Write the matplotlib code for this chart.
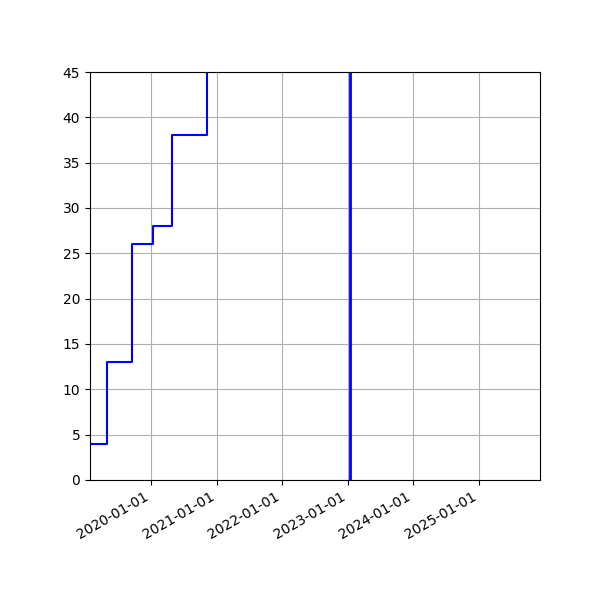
import pandas as pd
import matplotlib
matplotlib.use('Agg')
import matplotlib.pyplot as plt
import matplotlib.dates as mdates

dates = pd.to_datetime(['2019-01-01', '2019-05-02', '2019-09-16', '2020-01-10',
                        '2020-04-25', '2020-11-08', '2021-06-01'])
counts = [4, 13, 26, 28, 38, 60, 60]
marker_date = pd.Timestamp('2023-01-16')

fig = plt.figure(figsize=(6, 6), dpi=100)
ax = fig.add_subplot(111)
ax.step(dates, counts, where='post', color='blue')
ax.axvline(marker_date, color='blue', linewidth=2)
ax.set_ylim(0, 45)
ax.set_xlim(pd.Timestamp('2019-01-26'), pd.Timestamp('2025-12-07'))
ax.xaxis.set_major_locator(mdates.YearLocator())
ax.xaxis.set_major_formatter(mdates.DateFormatter('%Y-%m-%d'))
ax.grid(True)
fig.autofmt_xdate()
fig.subplots_adjust(left=0.15, bottom=0.2, right=0.9, top=0.88)
fig.savefig('out.png')
